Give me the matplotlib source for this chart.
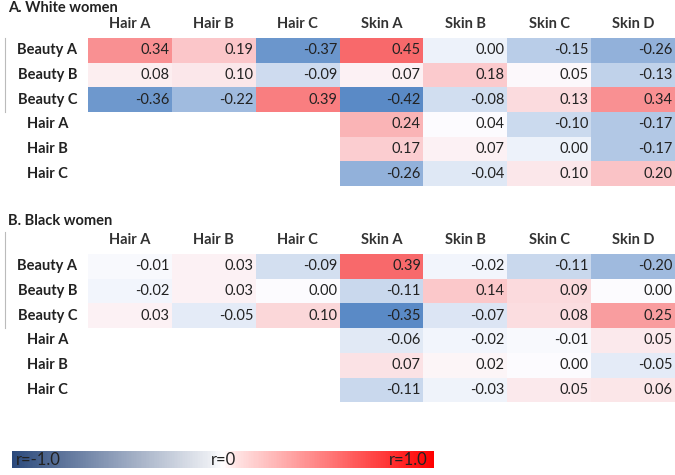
import numpy as np
import matplotlib
matplotlib.use("Agg")
import matplotlib.pyplot as plt
from matplotlib.colors import LinearSegmentedColormap, TwoSlopeNorm, Normalize
from matplotlib.cm import ScalarMappable

plt.rcParams['font.family'] = ['Lato', 'DejaVu Sans']

rows = ["Beauty A", "Beauty B", "Beauty C", "Hair A", "Hair B", "Hair C"]
cols = ["Hair A", "Hair B", "Hair C", "Skin A", "Skin B", "Skin C", "Skin D"]

# correlations, None = cell left empty
white = [
    [0.34, 0.19, -0.37, 0.45, 0.00, -0.15, -0.26],
    [0.08, 0.10, -0.09, 0.07, 0.18, 0.05, -0.13],
    [-0.36, -0.22, 0.39, -0.42, -0.08, 0.13, 0.34],
    [None, None, None, 0.24, 0.04, -0.10, -0.17],
    [None, None, None, 0.17, 0.07, 0.00, -0.17],
    [None, None, None, -0.26, -0.04, 0.10, 0.20],
]
black = [
    [-0.01, 0.03, -0.09, 0.39, -0.02, -0.11, -0.20],
    [-0.02, 0.03, 0.00, -0.11, 0.14, 0.09, 0.00],
    [0.03, -0.05, 0.10, -0.35, -0.07, 0.08, 0.25],
    [None, None, None, -0.06, -0.02, -0.01, 0.05],
    [None, None, None, 0.07, 0.02, 0.00, -0.05],
    [None, None, None, -0.11, -0.03, 0.05, 0.06],
]
panels = [("A. White women", white), ("B. Black women", black)]

W, H = 675, 475
fig = plt.figure(figsize=(W / 100, H / 100), dpi=100)


def box(x0, y0, x1, y1):
    # pixel box -> figure fraction rect
    return [x0 / W, 1 - y1 / H, (x1 - x0) / W, (y1 - y0) / H]


# Excel style 3-colour scale
cell_cmap = LinearSegmentedColormap.from_list("xl", ["#5A8AC6", "#FCFCFF", "#F8696B"])

grid_x0, grid_x1 = 88, 675
tops = [38, 254]
row_h = 24.7
col_w = (grid_x1 - grid_x0) / len(cols)

for (title, data), top in zip(panels, tops):
    vals = np.array([[np.nan if v is None else v for v in r] for r in data])
    bottom = top + row_h * len(rows)
    ax = fig.add_axes(box(grid_x0, top, grid_x1, bottom))
    finite = vals[~np.isnan(vals)]
    norm = TwoSlopeNorm(vmin=finite.min(), vcenter=np.median(finite), vmax=finite.max())
    ax.pcolormesh(np.ma.masked_invalid(vals), cmap=cell_cmap, norm=norm)
    ax.set_xlim(0, len(cols))
    ax.set_ylim(len(rows), 0)
    ax.axis("off")

    for i in range(len(rows)):
        for j in range(len(cols)):
            if not np.isnan(vals[i, j]):
                ax.text(j + 0.97, i + 0.5, "%.2f" % vals[i, j], ha="right", va="center",
                        fontsize=10.5, color="#222222")
    for j, c in enumerate(cols):
        ax.text(j + 0.5, -0.55, c, ha="center", va="center", fontsize=10.5,
                fontweight="bold", color="#333333", clip_on=False)
    lab_x = (47.5 - grid_x0) / col_w
    for i, r in enumerate(rows):
        ax.text(lab_x, i + 0.5, r, ha="center", va="center", fontsize=10.5,
                fontweight="bold", color="#222222", clip_on=False)
    title_y = 8 if top == tops[0] else top - 33
    ax.text((8 - grid_x0) / col_w, (title_y - top) / row_h, title,
            ha="left", va="center", fontsize=10.5, fontweight="bold", color="#222222",
            clip_on=False)

# thin bracket lines at left
fig.add_artist(plt.Line2D([5 / W, 5 / W], [1 - 38 / H, 1 - 112 / H], color="#bbbbbb", lw=0.8))
fig.add_artist(plt.Line2D([5 / W, 5 / W], [1 - 232 / H, 1 - 328 / H], color="#bbbbbb", lw=0.8))

# legend bar
bar_cmap = LinearSegmentedColormap.from_list(
    "bar", [(0, "#2c4a7c"), (0.47, "#eceef3"), (0.5, "#ffffff"), (0.53, "#ffe4e4"), (1, "#ff0000")])
cax = fig.add_axes(box(12, 451, 434, 468))
cb = fig.colorbar(ScalarMappable(norm=Normalize(-1, 1), cmap=bar_cmap), cax=cax,
                  orientation="horizontal")
cb.set_ticks([])
cb.outline.set_visible(False)
cax.text(0.01, 0.45, "r=-1.0", transform=cax.transAxes, ha="left", va="center", fontsize=12,
         color="#222222")
cax.text(0.5, 0.45, "r=0", transform=cax.transAxes, ha="center", va="center", fontsize=12,
         color="#222222")
cax.text(0.985, 0.45, "r=1.0", transform=cax.transAxes, ha="right", va="center", fontsize=12,
         color="#222222")

fig.savefig("out.png", dpi=100)
